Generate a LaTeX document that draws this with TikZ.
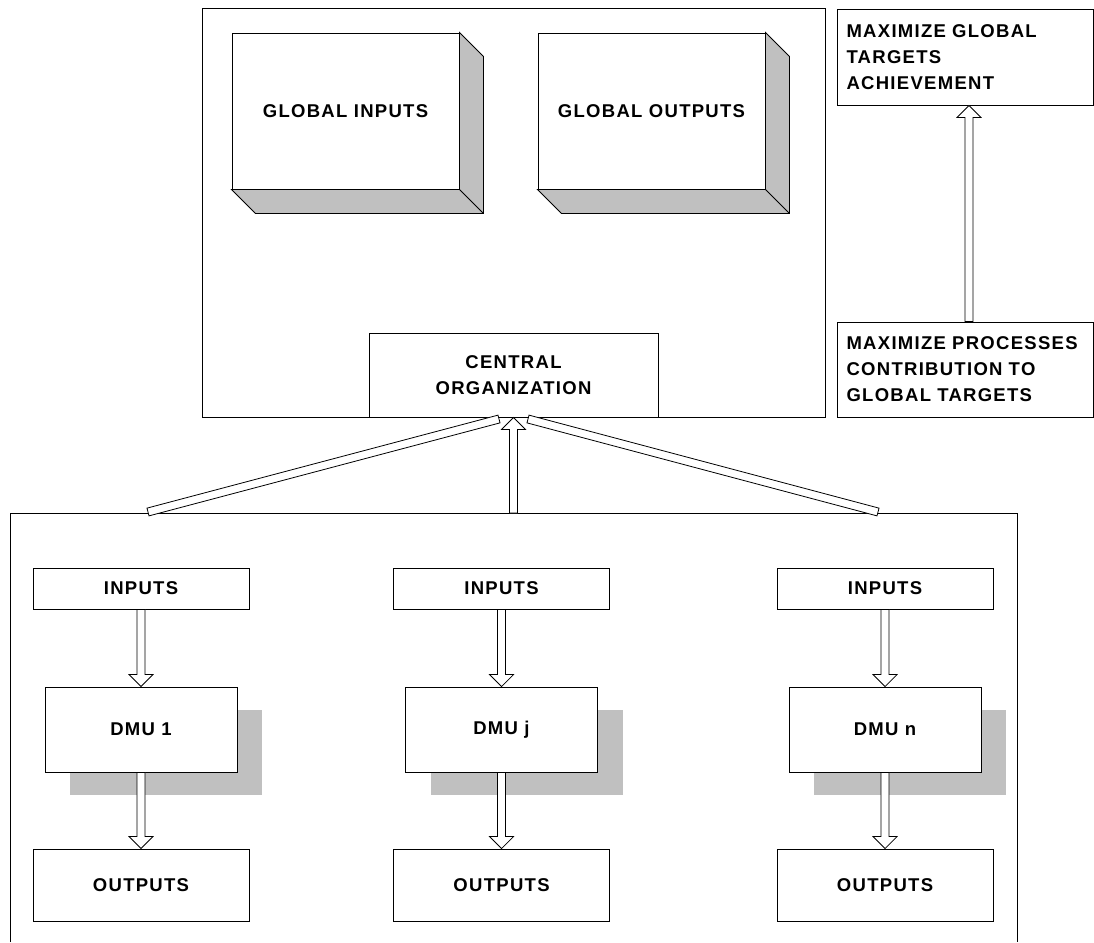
\documentclass[tikz,border=0pt]{standalone}
\usepackage{fontspec}
\setmainfont{Liberation Sans}[LetterSpace=7]
\usetikzlibrary{calc,shadows}
\definecolor{shadegray}{RGB}{192,192,192}
% hollow block arrow from #1 to #2
\newcommand{\hollowarrow}[2]{%
  \coordinate (ha) at ($(#2)!12pt!(#1)$);
  \draw[hollow] ($(#1)!4pt!90:(#2)$) -- ($(ha)!4pt!90:(#2)$) -- ($(ha)!12pt!90:(#2)$) -- (#2)
    -- ($(ha)!12pt!-90:(#2)$) -- ($(ha)!4pt!-90:(#2)$) -- ($(#1)!4pt!-90:(#2)$) -- cycle;}
% hollow bar without head
\newcommand{\hollowbar}[2]{%
  \draw[hollow] ($(#1)!4pt!90:(#2)$) -- ($(#2)!4pt!-90:(#1)$) -- ($(#2)!4pt!90:(#1)$) -- ($(#1)!4pt!-90:(#2)$) -- cycle;}
% 3d slab faces
\newcommand{\slab}[1]{%
  \filldraw[fill=shadegray] (#1.north east) -- ++(24,24) -- ([shift={(24,24)}]#1.south east)
    -- ([shift={(24,24)}]#1.south west) -- (#1.south west) -- (#1.south east) -- cycle;
  \draw (#1.south east) -- ++(24,24);}
\begin{document}
\begin{tikzpicture}[x=1pt, y=-1pt, line width=0.9pt,
    box/.style={draw, fill=white, inner sep=0pt, font=\bfseries\fontsize{18.5}{26}\selectfont, align=center},
    target/.style={box, align=left, text width=237pt, inner xsep=9.5pt, minimum width=256pt},
    dmu/.style={box, minimum width=192pt, minimum height=85pt,
      general shadow={fill=shadegray, shadow xshift=25pt, shadow yshift=-23pt}},
    hollow/.style={draw, fill=white, line width=0.8pt, line join=miter}]
  \useasboundingbox (0,0) rectangle (1094,942);
  % frames
  \draw (202,8) rectangle (825,417);
  \draw (10,942) -- (10,513) -- (1017,513) -- (1017,942);
  %nodes
  \node[box, minimum width=227pt, minimum height=156pt] at (345.5,111) (ginputs) {GLOBAL INPUTS};
  \node[box, minimum width=227pt, minimum height=156pt] at (651.5,111) (goutputs) {GLOBAL OUTPUTS};
  \slab{ginputs} \slab{goutputs}
  \node[box, minimum width=289pt, minimum height=84pt] at (513.5,375) (central) {CENTRAL\\ORGANIZATION};
  \node[target, minimum height=96pt] at (965,57) (globaltarget) {MAXIMIZE GLOBAL\\TARGETS\\ACHIEVEMENT};
  \node[target, minimum height=95pt] at (965,369.5) (processtarget) {MAXIMIZE PROCESSES\\CONTRIBUTION TO\\GLOBAL TARGETS};
  \foreach \n/\x/\lab in {1/141/1, j/501.5/j, n/885/n} {
    \node[box, minimum width=216pt, minimum height=41pt] at (\x,588.5) (in\n) {INPUTS};
    \node[dmu] at (\x,729.5) (dmu\n) {DMU \lab};
    \node[box, minimum width=216pt, minimum height=72pt] at (\x,885) (out\n) {OUTPUTS};
  }
  \coordinate (lfoot) at (148,512);
  \coordinate (rfoot) at (878,512);
  \coordinate (mfoot) at (513.5,513);
  \coordinate (lhead) at (499,419);
  \coordinate (rhead) at (528,419);
  % arrows between nodes
  \hollowarrow{[xshift=4pt]processtarget.north}{[xshift=4pt]globaltarget.south}
  \foreach \n in {1,j,n} {
    \hollowarrow{in\n.south}{dmu\n.north}
    \hollowarrow{dmu\n.south}{out\n.north}
  }
  \hollowbar{lfoot}{lhead} \hollowbar{rfoot}{rhead}
  \hollowarrow{mfoot}{central.south}
\end{tikzpicture}
\end{document}
